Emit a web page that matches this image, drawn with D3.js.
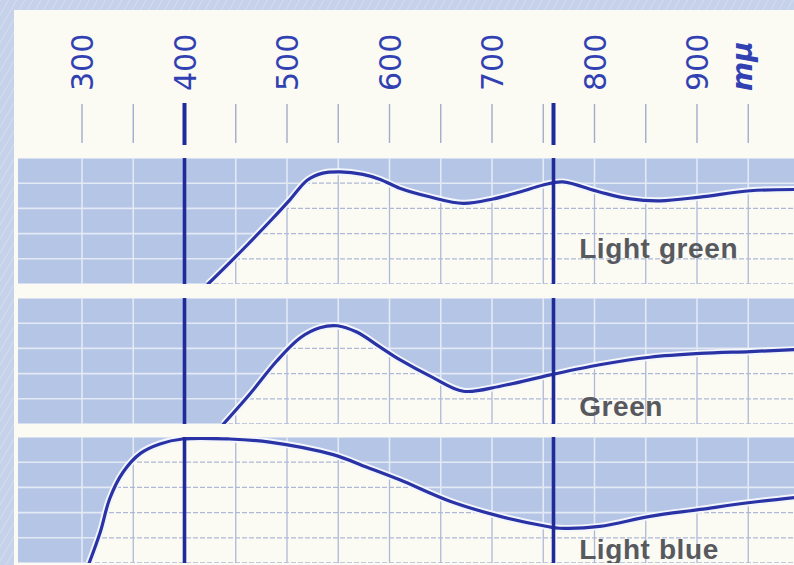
<!DOCTYPE html>
<html lang="en">
<head>
<meta charset="UTF-8">
<title>Filter transmission curves</title>
<script src="https://d3js.org/d3.v7.min.js"></script>
<style>
  body { margin: 0; background: #c6d3ea; }
  svg { display: block; }
</style>
</head>
<body>
<svg width="794" height="565"></svg>
<script>
// wavelength axis (mμ)
const tickLabels = [300, 400, 500, 600, 700, 800, 900];
const unitLabel = 'mμ';
const unitAt = 950;
const gridNm = [300, 350, 400, 450, 500, 550, 600, 650, 700, 750, 800, 850, 900, 950, 1000];
const markerNm = [400, 760];
const gridPct = [0, 20, 40, 60, 80, 100];

const filterNames = ['Light green', 'Green', 'Light blue'];

// transmission in %
const lightGreenNm = [423, 454, 486, 503, 520, 535, 552, 574, 591, 610, 640, 672, 701, 727, 750, 769, 805, 835, 864, 903, 952, 995];
const lightGreenT  = [0, 25, 52, 67, 82.5, 88, 89, 87, 83, 76, 69, 64, 67.5, 73, 78.6, 81, 73, 67.5, 66, 69, 74, 75];

const greenNm = [438, 464, 490, 513, 532, 549, 568, 591, 610, 642, 672, 708, 757, 805, 854, 903, 952, 995];
const greenT  = [0, 24, 50, 68.5, 76.4, 78, 73, 61, 51, 37, 26, 30, 39, 47, 53, 56, 57.5, 59];

const lightBlueNm = [307, 318, 327, 340, 357, 376, 398, 444, 483, 545, 578, 610, 659, 708, 754, 766, 805, 854, 903, 952, 995];
const lightBlueT  = [0, 25, 51, 72, 87, 94.5, 98.4, 98.4, 96, 86, 76, 66, 49, 37, 29, 27.6, 29, 37, 42.5, 48, 52];

const W = 794, H = 565;
const panelTop = [158, 298, 437];
const panelH = 126;
const panelLeft = 18;
const labelDy = [-26, -8, -4];

const svg = d3.select('svg');
const defs = svg.append('defs');

const x = d3.scaleLinear().domain([300, 1000]).range([82, 799.5]);

// streaky light blue backing paper
const pat = defs.append('pattern').attr('id', 'paper')
    .attr('width', 7).attr('height', 7)
    .attr('patternUnits', 'userSpaceOnUse')
    .attr('patternTransform', 'rotate(30)');
pat.append('rect').attr('width', 7).attr('height', 7).attr('fill', '#c6d2ea');
pat.append('line').attr('x1', 0).attr('y1', 0).attr('x2', 0).attr('y2', 7)
    .attr('stroke', '#d2dcef').attr('stroke-width', 2);
svg.append('rect').attr('width', W).attr('height', H).attr('fill', 'url(#paper)');

// cream sheet
svg.append('rect').attr('x', 14).attr('y', 10).attr('width', W).attr('height', H)
    .attr('fill', '#fbfbf4');

// header ticks + labels
const header = svg.append('g');
header.selectAll('line.tk')
    .data(gridNm.filter(d => !markerNm.includes(d)))
    .join('line')
    .attr('class', 'tk')
    .attr('x1', d => x(d)).attr('x2', d => x(d))
    .attr('y1', 104).attr('y2', 143)
    .attr('stroke', '#a3acca').attr('stroke-width', 1.4);

header.selectAll('line.mk')
    .data(markerNm)
    .join('line')
    .attr('class', 'mk')
    .attr('x1', d => x(d)).attr('x2', d => x(d))
    .attr('y1', 103).attr('y2', 145)
    .attr('stroke', '#1f2b98').attr('stroke-width', 4);

header.selectAll('text.tl')
    .data(tickLabels)
    .join('text')
    .attr('class', 'tl')
    .attr('transform', d => `translate(${x(d) + 11},91) rotate(-90)`)
    .attr('font-family', 'DejaVu Sans')
    .attr('font-size', 30)
    .attr('fill', '#3241b2')
    .text(d => d);

header.append('text')
    .attr('transform', `translate(${x(unitAt) + 4},91) rotate(-90)`)
    .attr('font-family', 'DejaVu Sans')
    .attr('font-style', 'italic')
    .attr('font-weight', 'bold')
    .attr('font-size', 28)
    .attr('fill', '#3241b2')
    .text(unitLabel);

function drawGrid(g, y, top, bottom, color, width, dash) {
    g.selectAll('line.v')
        .data(gridNm)
        .join('line')
        .attr('class', 'v')
        .attr('x1', d => x(d)).attr('x2', d => x(d))
        .attr('y1', top).attr('y2', bottom)
        .attr('stroke', color).attr('stroke-width', width);
    g.selectAll('line.h')
        .data(gridPct)
        .join('line')
        .attr('class', 'h')
        .attr('x1', panelLeft).attr('x2', W)
        .attr('y1', d => y(d)).attr('y2', d => y(d))
        .attr('stroke', color).attr('stroke-width', width)
        .attr('stroke-dasharray', dash);
}

const series = [
    { name: filterNames[0], nm: lightGreenNm, t: lightGreenT },
    { name: filterNames[1], nm: greenNm, t: greenT },
    { name: filterNames[2], nm: lightBlueNm, t: lightBlueT }
];

series.forEach((s, i) => {
    const top = panelTop[i], bottom = top + panelH;
    const y = d3.scaleLinear().domain([0, 100]).range([bottom, top]);

    defs.append('clipPath').attr('id', 'panel' + i)
        .append('rect').attr('x', panelLeft).attr('y', top)
        .attr('width', W - panelLeft).attr('height', panelH);

    const g = svg.append('g').attr('clip-path', `url(#panel${i})`);

    // shaded (absorbed) part
    g.append('rect').attr('x', panelLeft).attr('y', top)
        .attr('width', W - panelLeft).attr('height', panelH)
        .attr('fill', '#b5c5e5');
    drawGrid(g.append('g'), y, top, bottom, '#e3e9f5', 1.6, null);

    const pts = s.nm.map((d, j) => [x(d), y(s.t[j])]);
    const smooth = d3.curveCatmullRom.alpha(0.5);
    const area = d3.area().x(d => d[0]).y0(bottom).y1(d => d[1]).curve(smooth);
    const line = d3.line().curve(smooth);

    // transmitted part
    g.append('path').attr('d', area(pts)).attr('fill', '#fbfbf4');
    defs.append('clipPath').attr('id', 'under' + i)
        .append('path').attr('d', area(pts));
    const gu = g.append('g').attr('clip-path', `url(#under${i})`);
    drawGrid(gu, y, top, bottom, '#aeb9d8', 1.3, null);
    gu.selectAll('line.h').attr('stroke-dasharray', '5,2');

    // curve with white halo
    g.append('path').attr('d', line(pts))
        .attr('fill', 'none').attr('stroke', '#f3f6fb').attr('stroke-width', 7);
    g.append('path').attr('d', line(pts))
        .attr('fill', 'none').attr('stroke', '#2a33a6').attr('stroke-width', 3.2)
        .attr('stroke-linecap', 'round');

    g.selectAll('line.mk')
        .data(markerNm)
        .join('line')
        .attr('class', 'mk')
        .attr('x1', d => x(d)).attr('x2', d => x(d))
        .attr('y1', top).attr('y2', bottom)
        .attr('stroke', '#1f2b98').attr('stroke-width', 3.6);

    g.append('text')
        .attr('x', x(785))
        .attr('y', bottom + labelDy[i])
        .attr('font-family', 'Liberation Sans')
        .attr('font-weight', 'bold')
        .attr('font-size', 28)
        .attr('letter-spacing', 0.6)
        .attr('fill', '#57595f')
        .text(s.name);
});
</script>
</body>
</html>
